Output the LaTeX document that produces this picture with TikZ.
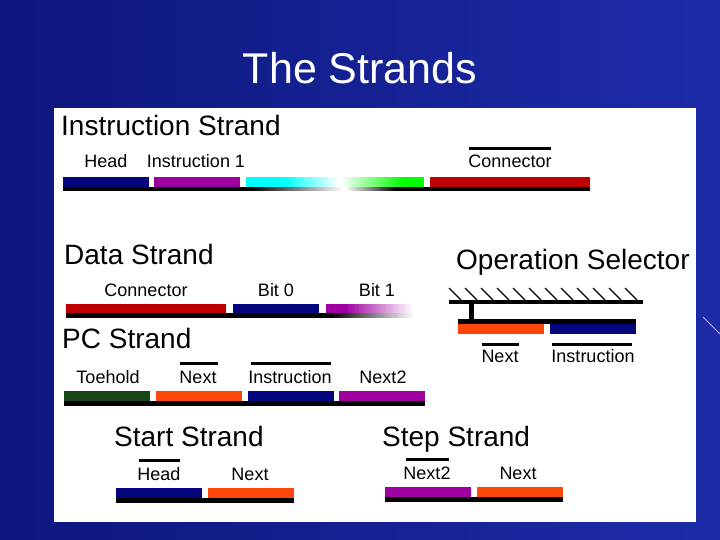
\documentclass[tikz,border=0pt]{standalone}
\usepackage{fontspec}
\setmainfont{Liberation Sans}
\definecolor{bgdark}{RGB}{14,22,125}
\definecolor{bglight}{RGB}{28,44,168}
\definecolor{navyb}{RGB}{5,5,125}
\definecolor{purpb}{RGB}{160,0,160}
\definecolor{redb}{RGB}{190,0,0}
\definecolor{orangeb}{RGB}{255,70,10}
\definecolor{greenb}{RGB}{25,70,25}
\definecolor{cyanb}{RGB}{0,255,255}
\definecolor{greenl}{RGB}{0,255,0}
\definecolor{streak}{RGB}{190,170,255}
% horizontal gradient made of thin strips: x1 x2 y1 y2 colA colB
\newcommand{\mygrad}[6]{%
  \foreach \k in {0,...,39}{%
    \pgfmathsetmacro\xa{#1+(#2-#1)/40*\k}%
    \pgfmathsetmacro\xb{#1+(#2-#1)/40*(\k+1)+0.4}%
    \pgfmathtruncatemacro\p{100-100/39*\k}%
    \fill[#5!\p!#6] (\xa,#3) rectangle (\xb,#4);}}
\begin{document}
\begin{tikzpicture}[x=1pt,y=-1pt,
  ttl/.style={anchor=base west,inner sep=0pt,font=\fontsize{28}{30}\selectfont},
  lbl/.style={anchor=base,inner sep=0pt,font=\fontsize{18}{20}\selectfont},
  ovl/.style={line width=3pt},
  hatchline/.style={line width=1.3pt}]
\useasboundingbox (0,0) rectangle (720,540);
% background
\mygrad{0}{720}{0}{540}{bgdark}{bglight}
\draw[streak,line width=1pt] (703,317) -- (720,334);
\fill[white] (54,108) rectangle (696,522);
\node[anchor=base,inner sep=0pt,text=white,font=\fontsize{43}{46}\selectfont] (title) at (360,84) {The Strands};

% Instruction strand
\node[ttl] (tInstr) at (61,136) {Instruction Strand};
\node[lbl] (iHead) at (106,168) {Head};
\node[lbl] (iInstr) at (196,168) {Instruction 1};
\node[lbl] (iConn) at (510,168) {Connector};
\draw[ovl] (469,149) -- (551,149);
\fill[navyb] (63,177) rectangle (149,187);
\fill[purpb] (154,177) rectangle (240,187);
\fill[cyanb] (246,177) rectangle (285,187);
\mygrad{285}{340}{177}{187}{cyanb}{white}
\mygrad{340}{405}{177}{187}{white}{greenl}
\fill[greenl] (405,177) rectangle (424,187);
\fill[redb] (430,177) rectangle (590,187);
\fill[black] (63,187) rectangle (250,191);
\mygrad{250}{345}{187}{191}{black}{white}
\mygrad{345}{398}{187}{191}{white}{black}
\fill[black] (398,187) rectangle (590,191);

% Data strand
\node[ttl] (tData) at (64,264) {Data Strand};
\node[lbl] (dConn) at (146,296) {Connector};
\node[lbl] (dBit0) at (276,296) {Bit 0};
\node[lbl] (dBit1) at (377,296) {Bit 1};
\fill[redb] (66,304) rectangle (226,313);
\fill[navyb] (233,304) rectangle (319,313);
\fill[purpb] (326,304) rectangle (345,313);
\mygrad{345}{414}{304}{313}{purpb}{white}
\fill[black] (66,313) rectangle (330,318);
\mygrad{330}{416}{313}{318}{black}{white}

% Operation selector
\node[ttl] (tOp) at (456,269) {Operation Selector};
\foreach \i in {0,...,11}{
  \draw[hatchline] (449+16*\i,288) -- (461+16*\i,300);
}
\fill[black] (449,300) rectangle (643,304);
\fill[black] (469,303) rectangle (474,320);
\fill[black] (458,319) rectangle (636,324);
\fill[orangeb] (458,324) rectangle (544,334);
\fill[navyb] (550,324) rectangle (636,334);
\node[lbl] (oNext) at (500,362) {Next};
\node[lbl] (oInstr) at (593,362) {Instruction};
\draw[ovl] (482,344) -- (519,344);
\draw[ovl] (552,344) -- (632,344);

% PC strand
\node[ttl] (tPC) at (62,348) {PC Strand};
\node[lbl] (pToe) at (108,383) {Toehold};
\node[lbl] (pNext) at (198,383) {Next};
\node[lbl] (pInstr) at (290,383) {Instruction};
\node[lbl] (pNext2) at (383,383) {Next2};
\draw[ovl] (180,363) -- (218,363);
\draw[ovl] (251,363) -- (331,363);
\fill[greenb] (64,391) rectangle (150,401);
\fill[orangeb] (156,391) rectangle (242,401);
\fill[navyb] (248,391) rectangle (334,401);
\fill[purpb] (339,391) rectangle (425,401);
\fill[black] (64,401) rectangle (425,406);

% Start strand
\node[ttl] (tStart) at (114,446) {Start Strand};
\node[lbl] (sHead) at (159,480) {Head};
\node[lbl] (sNext) at (250,480) {Next};
\draw[ovl] (139,460) -- (180,460);
\fill[navyb] (116,488) rectangle (202,498);
\fill[orangeb] (208,488) rectangle (294,498);
\fill[black] (116,498) rectangle (294,503);

% Step strand
\node[ttl] (tStep) at (382,446) {Step Strand};
\node[lbl] (stNext2) at (427,479) {Next2};
\node[lbl] (stNext) at (518,479) {Next};
\draw[ovl] (406,459) -- (449,459);
\fill[purpb] (385,487) rectangle (471,497);
\fill[orangeb] (477,487) rectangle (563,497);
\fill[black] (385,497) rectangle (563,502);
\end{tikzpicture}
\end{document}
